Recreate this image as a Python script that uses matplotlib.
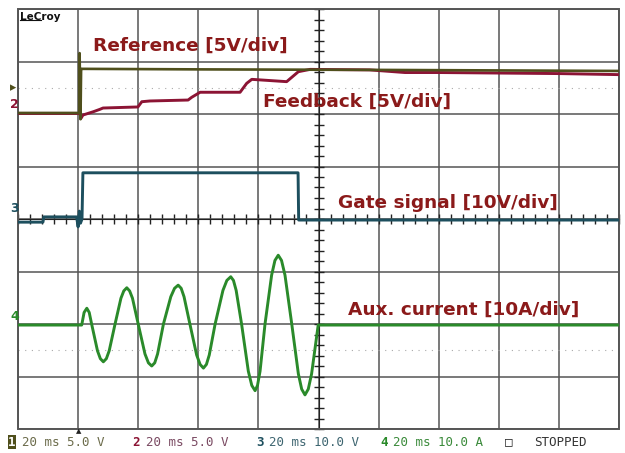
import numpy as np
import matplotlib
matplotlib.use("Agg")
import matplotlib.pyplot as plt
from matplotlib.patches import Rectangle
from matplotlib.ticker import MultipleLocator

# scope settings: 20 ms/div, 10 div across, 8 div high
ms_per_div = 20
ch_scale = {1: 5.0, 2: 5.0, 3: 10.0, 4: 10.0}      # V/div or A/div
ch_offset = {1: 6.0, 2: 6.0, 3: 4.0, 4: 2.0}       # trace zero, in div

# Ch1 reference [V]
ref_t = [0, 20.4, 20.5, 20.8, 21.0, 21.3, 60, 120, 160, 200]
ref_v = [0.1, 0.1, 5.8, -0.5, 4.3, 4.3, 4.25, 4.2, 4.15, 4.1]

# Ch2 feedback [V]
fb_t = [0, 20.6, 21.0, 21.6, 25.1, 27.3, 28.3, 39.9, 41.2, 43.9, 56.6, 57.8,
        60.6, 73.9, 76.1, 77.8, 89.4, 93.3, 97.2, 117, 128.8, 140, 180, 200]
fb_v = [0.05, 0.05, -0.4, -0.1, 0.22, 0.45, 0.57, 0.67, 1.17, 1.24, 1.33, 1.59,
        2.07, 2.07, 2.92, 3.30, 3.08, 4.03, 4.25, 4.2, 3.95, 3.95, 3.85, 3.75]

# Ch3 gate signal [V]
gate_t = [0, 8.3, 8.6, 19.5, 20.0, 20.4, 20.8, 21.3, 21.6, 93.2, 93.4, 200]
gate_v = [-0.6, -0.6, 0.4, 0.4, -1.5, 1.5, -0.8, 0.0, 8.8, 8.8, -0.2, -0.2]

# Ch4 aux. current [A]
aux_t = [0, 21.2, 22.0, 22.9, 23.7, 24.5,
         26.45, 27.4, 28.4, 29.4, 30.35, 32.3,
         34.25, 35.2, 36.2, 37.15, 38.1, 40.0,
         42.25, 43.4, 44.5, 45.5, 46.45, 48.4,
         50.85, 52.1, 53.3, 54.3, 55.25, 57.2,
         59.45, 60.6, 61.7, 62.7, 63.65, 65.6,
         68.2, 69.5, 70.8, 71.7, 72.6, 74.4,
         76.65, 77.8, 78.9, 79.7, 80.55, 82.2,
         84.4, 85.5, 86.6, 87.7, 88.85, 91.1,
         93.3, 94.4, 95.5, 96.6, 97.7, 99.9, 200]
aux_i = [-0.2, -0.2, 2.2, 3.0, 2.2, 0,
         -5.1, -6.6, -7.2, -6.6, -5.1, 0,
         4.9, 6.3, 6.9, 6.3, 4.9, 0,
         -5.7, -7.4, -8.0, -7.4, -5.7, 0,
         5.2, 6.8, 7.4, 6.8, 5.2, 0,
         -5.9, -7.7, -8.4, -7.7, -5.9, 0,
         6.4, 8.3, 9.0, 8.3, 6.4, 0,
         -9.0, -11.7, -12.7, -11.7, -9.0, 0,
         9.3, 12.1, 13.1, 12.1, 9.3, 0,
         -9.5, -12.4, -13.5, -12.4, -9.5, -0.2, -0.2]

ref_c = '#4f4f1c'
fb_c = '#8c1434'
gate_c = '#1d4f5e'
aux_c = '#2a8a2a'
lab_c = '#8b1a1a'


def to_div(t, v, ch):
    return np.array(t) / ms_per_div, ch_offset[ch] + np.array(v) / ch_scale[ch]


W, H = 625, 453
fig = plt.figure(figsize=(W / 100, H / 100), dpi=100)
ax = fig.add_axes([18 / W, 24 / H, 601 / W, 420 / H])
ax.set_xlim(0, 10)
ax.set_ylim(0, 8)

# graticule
ax.set_xticks(range(11))
ax.set_yticks(range(9))
ax.xaxis.set_minor_locator(MultipleLocator(0.2))
ax.yaxis.set_minor_locator(MultipleLocator(0.2))
ax.grid(True, which='major', color='#555555', lw=1.1)
for s in ['top', 'right']:
    ax.spines[s].set_visible(False)
ax.spines['left'].set_position(('data', 5))
ax.spines['bottom'].set_position(('data', 4))
ax.spines['left'].set_color('#222222')
ax.spines['bottom'].set_color('#222222')
ax.tick_params(which='both', direction='inout', length=7, width=1,
               color='#222222', labelbottom=False, labelleft=False)
ax.add_patch(Rectangle((0, 0), 1, 1, transform=ax.transAxes, fill=False,
                       ec='#555555', lw=1.4, clip_on=False, zorder=3))
for yd in [6.5, 1.5]:
    ax.axhline(yd, color='#aaaaaa', lw=0.8, ls=(0, (1, 5)))

# traces
ax.plot(*to_div(fb_t, fb_v, 2), color=fb_c, lw=2.1, zorder=4)
ax.plot(*to_div(ref_t, ref_v, 1), color=ref_c, lw=1.9, zorder=5)
ax.plot(*to_div(gate_t, gate_v, 3), color=gate_c, lw=2.1, zorder=4)
ax.plot(*to_div(aux_t, aux_i, 4), color=aux_c, lw=2.1, zorder=4)


def fx(x):
    return x / W


def fy(y):
    return 1 - y / H


# trace labels
lab_kw = dict(color=lab_c, fontsize=13.3, fontweight='bold', va='center', ha='left')
fig.text(fx(93), fy(46), 'Reference [5V/div]', **lab_kw)
fig.text(fx(263), fy(102), 'Feedback [5V/div]', **lab_kw)
fig.text(fx(338), fy(203), 'Gate signal [10V/div]', **lab_kw)
fig.text(fx(348), fy(310), 'Aux. current [10A/div]', **lab_kw)

fig.text(fx(20), fy(17), 'LeCroy', fontsize=7.5, fontweight='bold', color='#111111',
         va='center', ha='left')
ax.plot([0.03, 0.38], [7.79, 7.79], color='#111111', lw=0.8, zorder=6)

# channel markers on left
fig.text(fx(10), fy(88), '\u25b8', color=ref_c, fontsize=9, va='center')
fig.text(fx(10), fy(104), '2', color=fb_c, fontsize=9, fontweight='bold', va='center')
fig.text(fx(10), fy(209), '3', color=gate_c, fontsize=9, fontweight='bold', va='center')
fig.text(fx(10), fy(317), '4', color=aux_c, fontsize=9, fontweight='bold', va='center')
fig.text(fx(79), fy(431), '\u25b2', color='#222222', fontsize=5, ha='center', va='center')

# status line
mono = dict(family='DejaVu Sans Mono', fontsize=9, va='center', ha='left')
y_s = fy(442)
fig.text(fx(8), y_s, '1', color='white', fontweight='bold',
         bbox=dict(fc=ref_c, ec='none', pad=0.3), **mono)
fig.text(fx(22), y_s, '20 ms 5.0 V', color='#6b6b4a', **mono)
fig.text(fx(132), y_s, '2', color=fb_c, fontweight='bold', **mono)
fig.text(fx(146), y_s, '20 ms 5.0 V', color='#7a4a62', **mono)
fig.text(fx(256), y_s, '3', color=gate_c, fontweight='bold', **mono)
fig.text(fx(269), y_s, '20 ms 10.0 V', color='#3d6570', **mono)
fig.text(fx(380), y_s, '4', color=aux_c, fontweight='bold', **mono)
fig.text(fx(393), y_s, '20 ms 10.0 A', color='#3a8a3a', **mono)
fig.text(fx(505), y_s, '\u25a1', color='#222222', **mono)
fig.text(fx(534), y_s, 'STOPPED', color='#333333', **mono)

fig.savefig('out.png', dpi=100, facecolor='white')
